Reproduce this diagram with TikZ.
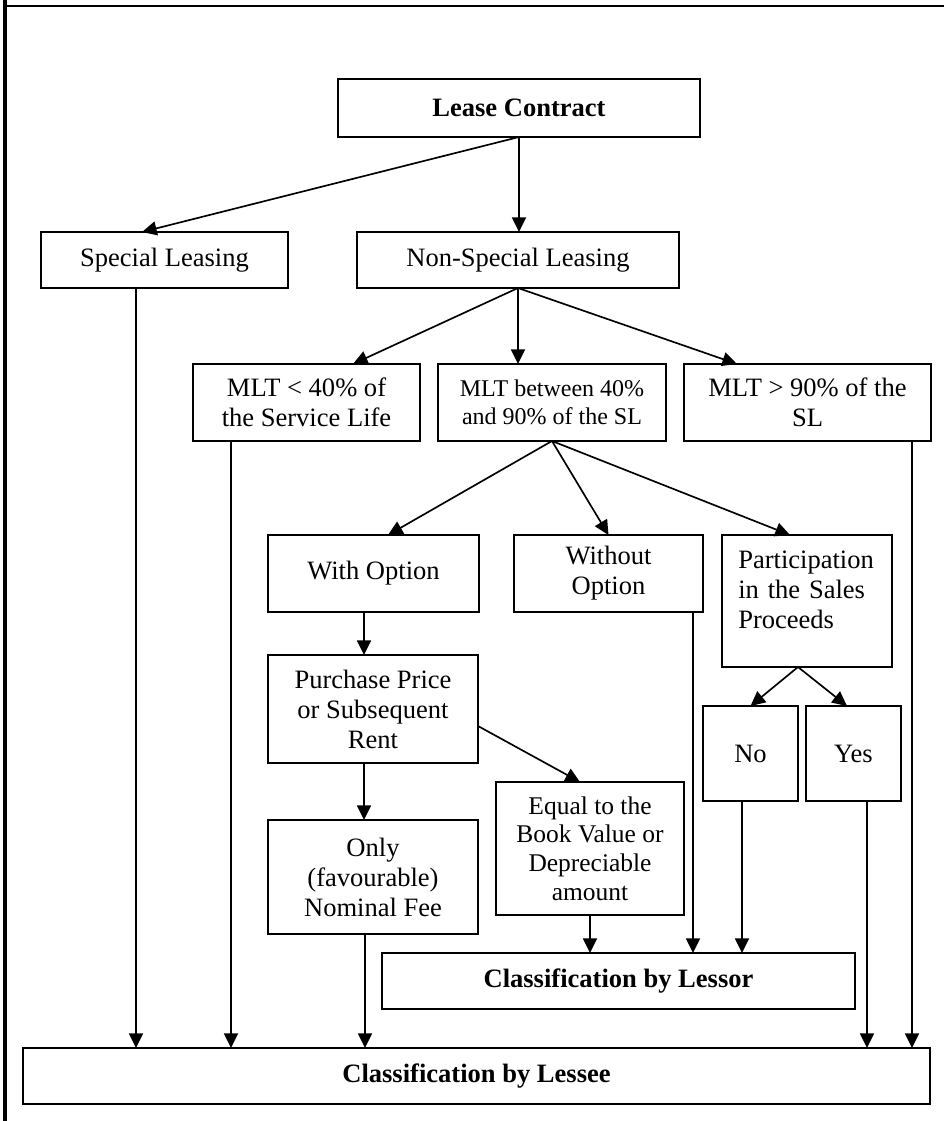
\documentclass[tikz,border=0pt]{standalone}
\usepackage{fontspec}
\setmainfont{Liberation Serif}
\usetikzlibrary{arrows.meta,calc}
\begin{document}
\begin{tikzpicture}[x=0.75pt,y=-0.75pt,
  txt/.style={font=\fontsize{19.9pt}{22.5pt}\selectfont},
  bx/.style 2 args={draw, line width=1.25pt, inner sep=0pt, outer sep=0pt,
    align=center, minimum width=#1*0.75pt, minimum height=#2*0.75pt, txt},
  bold/.style={font=\fontsize{19.9pt}{22.5pt}\selectfont\bfseries},
  arr/.style={line width=1.25pt, -{Triangle[length=11pt,width=10.5pt]}}]
\useasboundingbox (0,0) rectangle (944,1121);

% page frame: heavy left rule and thin top rule
\fill (2.5,0) rectangle (6.5,1121);
\draw[line width=1.1pt] (4,5.8) -- (944,5.8);

% boxes
\node[bx={362}{58}, bold] (lease) at (519,108) {Lease Contract};
\node[bx={247}{56}] (special) at (164.5,260) {Special Leasing};
\node[bx={322}{56}] (nonspec) at (518,260) {Non-Special Leasing};
\node[bx={227}{77}] (mlt40) at (306.5,402.5) {MLT < 40\% of\\the Service Life};
\node[bx={228}{77}, font=\fontsize{18pt}{21pt}\selectfont] (mltmid) at (552,402.5) {MLT between 40\%\\and 90\% of the SL};
\node[bx={247}{77}] (mlt90) at (807.5,402.5) {MLT > 90\% of the\\SL};
\node[bx={211}{77}] (withopt) at (373.5,573.5) {With Option};
\node[bx={189}{77}] (without) at (608.5,573.5) {Without\\Option};
\node[bx={170}{132}] (part) at (807,601) {};
\node[txt, anchor=north west, inner sep=0pt, text width=102pt, align=left] (parttext) at (738,550.5)
  {Participation\\\makebox[102pt][s]{in the Sales}\\Proceeds};
\node[bx={210}{108}] (purch) at (373,709) {Purchase Price\\or Subsequent\\Rent};
\node[bx={95}{95}] (no) at (750.5,753.5) {No};
\node[bx={95}{95}] (yes) at (853.5,753.5) {Yes};
\node[bx={188}{133}, font=\fontsize{19.1pt}{21.4pt}\selectfont] (equal) at (590,848.5)
  {Equal to the\\Book Value or\\Depreciable\\amount};
\node[bx={210}{114}] (only) at (373,877) {Only\\(favourable)\\Nominal Fee};
\node[bx={473}{56}, bold] (lessor) at (618.5,981) {Classification by Lessor};
\node[bx={907}{56}, bold] (lessee) at (476.5,1076) {Classification by Lessee};

% branching arrows
\draw[arr] (lease.south) -- (lease.south |- nonspec.north);
\draw[arr] (lease.south) -- ($(special.north)+(-22.5,0)$);
\draw[arr] (nonspec.south) -- ($(mlt40.north)+(46.5,0)$);
\draw[arr] (nonspec.south) -- (nonspec.south |- mltmid.north);
\draw[arr] (nonspec.south) -- ($(mlt90.north)+(-70.5,0)$);
\draw[arr] (mltmid.south) -- ($(withopt.north)+(14.5,0)$);
\draw[arr] (mltmid.south) -- (without.north);
\draw[arr] (mltmid.south) -- ($(part.north)+(-17,0)$);
\coordinate (wo) at ($(withopt.south)+(-9.5,0)$);
\draw[arr] (wo) -- (wo |- purch.north);
\coordinate (po) at ($(purch.south)+(-9,0)$);
\draw[arr] (po) -- (po |- only.north);
\draw[arr] ($(purch.east)+(0,17)$) -- ($(equal.north)+(-10,0)$);
\coordinate (ps) at ($(part.south)+(-9,0)$);
\draw[arr] (ps) -- (no.north);
\draw[arr] (ps) -- ($(yes.north)+(-6.5,0)$);

% drops to the lessee classification
\coordinate (d1) at ($(special.south)+(-28.5,0)$);
\coordinate (d2) at ($(mlt40.south)+(-75.5,0)$);
\coordinate (d3) at ($(only.south)+(-8,0)$);
\coordinate (d4) at ($(yes.south)+(13.5,0)$);
\coordinate (d5) at ($(mlt90.south)+(104.5,0)$);
\foreach \d in {d1,d2,d3,d4,d5} \draw[arr] (\d) -- (\d |- lessee.north);

% drops to the lessor classification
\coordinate (e1) at (equal.south);
\coordinate (e2) at ($(without.south)+(84.5,0)$);
\coordinate (e3) at ($(no.south)+(-8.5,0)$);
\foreach \d in {e1,e2,e3} \draw[arr] (\d) -- (\d |- lessor.north);
\end{tikzpicture}
\end{document}
